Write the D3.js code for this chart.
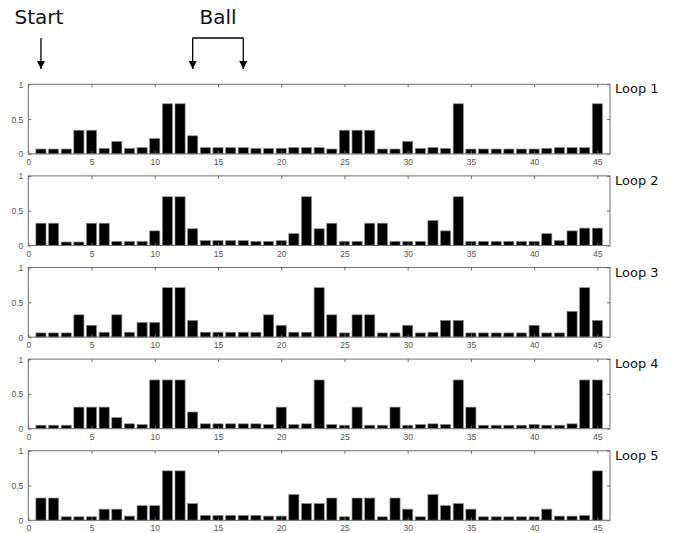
<!DOCTYPE html>
<html>
<head>
<meta charset="utf-8">
<script src="https://cdn.jsdelivr.net/npm/d3@7/dist/d3.min.js"></script>
<style>
  body { margin: 0; background: #fff; }
  svg { display: block; }
</style>
</head>
<body>
<svg id="chart" width="674" height="533"></svg>
<script>
// Position indices along the sequence
const positions = d3.range(1, 46);

// Per-loop values at each position
const loop1 = [0.07,0.07,0.07,0.34,0.34,0.08,0.18,0.08,0.09,0.22,0.72,0.72,0.26,0.09,0.09,0.09,0.09,0.08,0.08,0.08,0.09,0.09,0.09,0.07,0.34,0.34,0.34,0.07,0.07,0.18,0.08,0.09,0.08,0.72,0.07,0.07,0.07,0.07,0.07,0.07,0.08,0.09,0.09,0.09,0.72];
const loop2 = [0.32,0.32,0.05,0.05,0.32,0.32,0.06,0.06,0.06,0.21,0.70,0.70,0.24,0.07,0.07,0.07,0.07,0.06,0.06,0.07,0.17,0.70,0.24,0.32,0.06,0.06,0.32,0.32,0.06,0.06,0.06,0.36,0.21,0.70,0.06,0.06,0.06,0.06,0.06,0.06,0.17,0.07,0.21,0.25,0.25];
const loop3 = [0.06,0.06,0.06,0.32,0.17,0.07,0.32,0.07,0.21,0.21,0.71,0.71,0.24,0.07,0.07,0.07,0.07,0.07,0.32,0.17,0.07,0.07,0.71,0.32,0.06,0.32,0.32,0.06,0.06,0.17,0.06,0.07,0.24,0.24,0.06,0.06,0.06,0.06,0.06,0.17,0.06,0.06,0.37,0.71,0.24];
const loop4 = [0.05,0.05,0.05,0.31,0.31,0.31,0.16,0.07,0.06,0.70,0.70,0.70,0.24,0.07,0.07,0.07,0.07,0.07,0.06,0.31,0.06,0.07,0.70,0.06,0.05,0.31,0.05,0.05,0.31,0.05,0.06,0.07,0.06,0.70,0.31,0.05,0.05,0.05,0.05,0.06,0.05,0.05,0.07,0.70,0.70];
const loop5 = [0.32,0.32,0.05,0.05,0.05,0.16,0.16,0.06,0.21,0.21,0.71,0.71,0.24,0.07,0.07,0.07,0.07,0.07,0.06,0.06,0.37,0.24,0.24,0.32,0.05,0.32,0.32,0.05,0.32,0.16,0.05,0.37,0.21,0.24,0.16,0.05,0.05,0.05,0.05,0.05,0.16,0.06,0.06,0.07,0.71];

const loopNames = ["Loop 1", "Loop 2", "Loop 3", "Loop 4", "Loop 5"];
const loops = [loop1, loop2, loop3, loop4, loop5];

const xTicks = [0, 5, 10, 15, 20, 25, 30, 35, 40, 45];
const yTicks = [0, 0.5, 1];
const yTickLabels = ["0", "0.5", "1"];

// Annotated positions above the panels
const startPos = [1];
const ballPos = [13, 17];

const svg = d3.select("#chart");

const left = 28.3, right = 610;
const panelTop = 84.3, panelStep = 91.6, panelH = 69.6;
const barWidth = 0.8;

const x = d3.scaleLinear().domain([0, 46]).range([left, right]);
const axisColor = "#6e6e6e";
const tickTextColor = "#555";
const tickFont = "Liberation Sans, Arial, sans-serif";
const labelFont = "'DejaVu Sans', sans-serif";

loops.forEach((vals, i) => {
  const top = panelTop + i * panelStep;
  const y = d3.scaleLinear().domain([0, 1]).range([top + panelH, top]);
  const g = svg.append("g");

  // bars
  g.selectAll("rect.bar")
    .data(positions.map((p, k) => ({ p, v: vals[k] })))
    .join("rect")
    .attr("class", "bar")
    .attr("x", d => x(d.p - barWidth / 2))
    .attr("width", d => x(d.p + barWidth / 2) - x(d.p - barWidth / 2))
    .attr("y", d => y(d.v))
    .attr("height", d => y(0) - y(d.v))
    .attr("fill", "#000")
    .attr("stroke", "#8a8a8a")
    .attr("stroke-width", 0.7);

  // bottom axis
  const xb = g.append("g")
    .attr("transform", `translate(0,${top + panelH})`)
    .call(d3.axisBottom(x).tickValues(xTicks).tickSizeInner(-3).tickSizeOuter(0).tickPadding(5));
  // top axis (ticks only)
  const xt = g.append("g")
    .attr("transform", `translate(0,${top})`)
    .call(d3.axisTop(x).tickValues(xTicks).tickSizeInner(-3).tickSizeOuter(0).tickFormat(""));
  // left axis
  const yl = g.append("g")
    .attr("transform", `translate(${left},0)`)
    .call(d3.axisLeft(y).tickValues(yTicks).tickSizeInner(3).tickSizeOuter(0).tickPadding(2)
      .tickFormat((d, k) => yTickLabels[k]));
  yl.selectAll(".tick line").attr("x2", 3);
  // right axis (ticks only)
  const yr = g.append("g")
    .attr("transform", `translate(${right},0)`)
    .call(d3.axisRight(y).tickValues(yTicks).tickSizeInner(-3).tickSizeOuter(0).tickFormat(""));

  [xb, xt, yl, yr].forEach(a => {
    a.select(".domain").remove();
    a.selectAll(".tick line").attr("stroke", axisColor);
    a.selectAll(".tick text")
      .attr("fill", tickTextColor)
      .style("font-family", tickFont)
      .style("font-size", "8.5px");
  });
  yl.selectAll(".tick text").attr("dy", "0.35em");

  // frame
  g.append("rect")
    .attr("x", left).attr("y", top)
    .attr("width", right - left).attr("height", panelH)
    .attr("fill", "none")
    .attr("stroke", axisColor)
    .attr("stroke-width", 1);

  // loop label
  g.append("text")
    .attr("x", right + 5)
    .attr("y", top + 9)
    .style("font-family", labelFont)
    .style("font-size", "13px")
    .attr("fill", "#111")
    .text(loopNames[i]);
});

// Arrow annotations
const defs = svg.append("defs");
defs.append("marker")
  .attr("id", "arrowhead")
  .attr("viewBox", "0 0 10 10")
  .attr("refX", 10).attr("refY", 5)
  .attr("markerWidth", 8).attr("markerHeight", 10)
  .attr("markerUnits", "userSpaceOnUse")
  .attr("orient", "auto")
  .append("path")
  .attr("d", "M0,0 L10,5 L0,10 Z")
  .attr("fill", "#000");

const arrowTop = 38, arrowTip = 69;

svg.append("text")
  .attr("x", x(startPos[0]) - 2)
  .attr("y", 24)
  .attr("text-anchor", "middle")
  .style("font-family", labelFont)
  .style("font-size", "20px")
  .attr("fill", "#111")
  .text("Start");

svg.append("line")
  .attr("x1", x(startPos[0])).attr("x2", x(startPos[0]))
  .attr("y1", arrowTop).attr("y2", arrowTip)
  .attr("stroke", "#000").attr("stroke-width", 1.3)
  .attr("marker-end", "url(#arrowhead)");

svg.append("text")
  .attr("x", (x(ballPos[0]) + x(ballPos[1])) / 2)
  .attr("y", 24)
  .attr("text-anchor", "middle")
  .style("font-family", labelFont)
  .style("font-size", "20px")
  .attr("fill", "#111")
  .text("Ball");

svg.append("line")
  .attr("x1", x(ballPos[0])).attr("x2", x(ballPos[1]))
  .attr("y1", arrowTop).attr("y2", arrowTop)
  .attr("stroke", "#000").attr("stroke-width", 1.3);

ballPos.forEach(p => {
  svg.append("line")
    .attr("x1", x(p)).attr("x2", x(p))
    .attr("y1", arrowTop).attr("y2", arrowTip)
    .attr("stroke", "#000").attr("stroke-width", 1.3)
    .attr("marker-end", "url(#arrowhead)");
});
</script>
</body>
</html>
